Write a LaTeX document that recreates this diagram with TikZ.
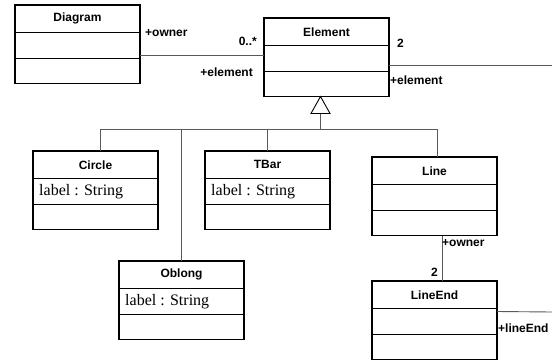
\documentclass[tikz,border=0pt]{standalone}
\usepackage{fontspec}
\setmainfont{Liberation Serif}
\setsansfont{Liberation Sans}
\usetikzlibrary{calc}

\tikzset{
  classbox/.style={draw=black, line width=1.3pt, minimum width=125pt, minimum height=78.5pt,
    inner sep=0pt, outer sep=0pt},
  compsep/.style={draw=black, line width=0.9pt},
  classname/.style={font=\sffamily\bfseries\fontsize{12}{13}\selectfont, inner sep=0pt},
  attrtext/.style={font=\rmfamily\fontsize{16}{18}\selectfont, inner sep=0pt, anchor=west},
  assoc/.style={draw=black!65, line width=0.9pt},
  gentri/.style={draw=black, line width=0.9pt, fill=white},
  rolelabel/.style={font=\sffamily\bfseries\fontsize{12}{13}\selectfont, inner sep=0pt},
}

% UML class with name, attribute and operation compartments
% #1 node name, #2 left x, #3 top y, #4 class name, #5 attribute line
\newcommand\umlclass[5]{%
  \node[classbox, anchor=north west] (#1) at (#2,#3) {};
  \node[classname] (#1-name) at ($(#1.north)+(0,13.75)$) {#4};
  \draw[compsep] ($(#1.north west)+(0,27.5)$) -- ($(#1.north east)+(0,27.5)$);
  \draw[compsep] ($(#1.north west)+(0,53)$) -- ($(#1.north east)+(0,53)$);
  \node[attrtext] (#1-attr) at ($(#1.north west)+(6,40.5)$) {#5};
}

\begin{document}
\begin{tikzpicture}[x=1pt, y=-1pt]
  \useasboundingbox (0,0) rectangle (552,362);

  % classes
  \umlclass{Diagram}{15}{5}{Diagram}{}
  \umlclass{Element}{264}{18}{Element}{}
  \umlclass{Circle}{33}{151}{Circle}{label : String}
  \umlclass{TBar}{205}{151}{TBar}{label : String}
  \umlclass{Oblong}{119}{261}{Oblong}{label : String}
  \umlclass{Line}{372}{157}{Line}{}
  \umlclass{LineEnd}{372}{281}{LineEnd}{}

  % associations
  \coordinate (elemRight) at (552,65);
  \coordinate (lineEndRight) at (552,312);
  \draw[assoc] ($(Diagram.north east)+(0,50)$) -- ($(Element.north west)+(0,37)$);
  \draw[assoc] ($(Element.north east)+(0,47)$) -- (elemRight);
  \draw[assoc] ($(Line.south)+(7.5,0)$) -- ($(LineEnd.north)+(7.5,0)$);
  \draw[assoc] ($(LineEnd.north east)+(0,30.5)$) -- (lineEndRight);

  % generalization tree
  \coordinate (apex) at ($(Element.south)+(-6,0)$);
  \coordinate (triBase) at ($(apex)+(0,17)$);
  \coordinate (bus) at ($(apex)+(0,33)$);
  \draw[assoc] (triBase) -- (bus);
  \draw[assoc] ($(Circle.north)+(4.5,0)$) |- (bus) -| ($(Line.north)+(2.5,0)$);
  \draw[assoc] (Oblong.north) -- (Oblong.north |- bus);
  \draw[assoc] (TBar.north) -- (TBar.north |- bus);
  \draw[gentri] (apex) -- ($(triBase)+(-9.5,0)$) -- ($(triBase)+(9.5,0)$) -- cycle;

  % role names and multiplicities
  \node[rolelabel, anchor=west] (lblOwnerA) at (145,33) {+owner};
  \node[rolelabel, anchor=east] (lblMultA) at (257,41) {0..*};
  \node[rolelabel, anchor=east] (lblElemA) at (253,72) {+element};
  \node[rolelabel, anchor=west] (lblMultB) at (397,43) {2};
  \node[rolelabel, anchor=west] (lblElemB) at (390,80) {+element};
  \node[rolelabel, anchor=west] (lblOwnerB) at (442,243) {+owner};
  \node[rolelabel, anchor=east] (lblMultC) at (438,272) {2};
  \node[rolelabel, anchor=west] (lblLineEnd) at (498,328) {+lineEnd};
\end{tikzpicture}
\end{document}
